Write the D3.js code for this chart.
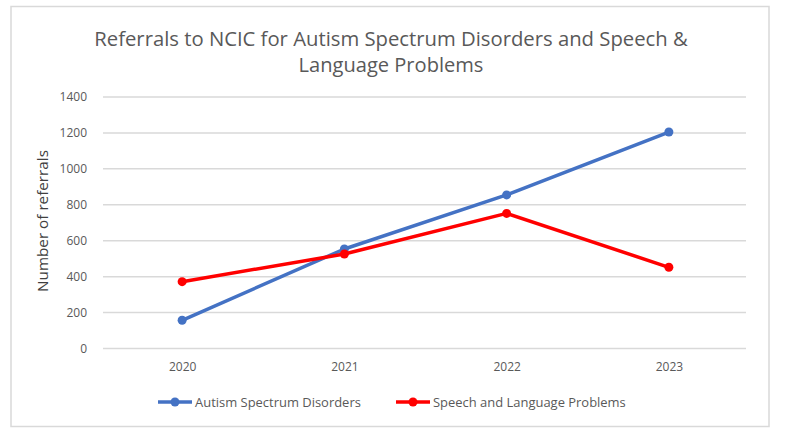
<!DOCTYPE html>
<html><head><meta charset="utf-8">
<script src="https://cdn.jsdelivr.net/npm/d3@7/dist/d3.min.js"></script>
<style>body{margin:0;background:#fff}svg{display:block}</style>
</head><body>
<svg id="c" width="788" height="438"></svg>
<script>
const years = ["2020","2021","2022","2023"];
const autism = [157, 554, 855, 1205];
const speech = [372, 526, 752, 452];
const yTicks = [0,200,400,600,800,1000,1200,1400];
const seriesNames = ["Autism Spectrum Disorders","Speech and Language Problems"];
const colors = ["#4472C4","#FF0000"];

const font = "'Open Sans', 'Noto Sans', sans-serif";
const svg = d3.select("#c");
svg.append("rect").attr("x",11).attr("y",6.5).attr("width",758).attr("height",420)
  .attr("fill","#fff").attr("stroke","#d9d9d9").attr("stroke-width",1.5);

const x = d3.scalePoint().domain(years).range([101,750]).padding(0.5);
const y = d3.scaleLinear().domain([0,1400]).range([348.5,97]);

function fit(sel, w){
  const n = sel.node(); const fs = parseFloat(sel.attr("font-size"));
  const l = n.getComputedTextLength(); sel.attr("font-size", fs*w/l);
}

// title
const t1 = svg.append("text").attr("x",391).attr("y",46).attr("text-anchor","middle")
  .attr("font-family",font).attr("font-size",20).attr("fill","#595959")
  .text("Referrals to NCIC for Autism Spectrum Disorders and Speech &");
fit(t1,594);
const t2 = svg.append("text").attr("x",391).attr("y",72).attr("text-anchor","middle")
  .attr("font-family",font).attr("font-size",20).attr("fill","#595959")
  .text("Language Problems");
fit(t2,185);

// grid
svg.append("g").selectAll("line").data(yTicks).join("line")
  .attr("x1",103).attr("x2",746).attr("y1",d=>y(d)).attr("y2",d=>y(d))
  .attr("stroke","#d9d9d9").attr("stroke-width",1.5);

// y axis labels
const ya = svg.append("g").attr("transform","translate(103,0)")
  .call(d3.axisLeft(y).tickValues(yTicks).tickSize(0).tickPadding(16).tickFormat(d3.format("d")));
ya.select(".domain").remove();
ya.selectAll("text").attr("font-family",font).attr("font-size",12).attr("fill","#595959");

// x axis labels
const xa = svg.append("g").attr("transform","translate(0,349)")
  .call(d3.axisBottom(x).tickSize(0).tickPadding(13));
xa.select(".domain").remove();
xa.selectAll("text").attr("font-family",font).attr("font-size",12).attr("fill","#595959");

// y title
const yt = svg.append("text").attr("transform","translate(48,221) rotate(-90)")
  .attr("text-anchor","middle").attr("font-family",font).attr("font-size",13).attr("fill","#404040")
  .text("Number of referrals");
fit(yt,142);

// lines
const data = [autism, speech];
const line = d3.line().x((d,i)=>x(years[i])).y(d=>y(d));
data.forEach((s,k)=>{
  svg.append("path").datum(s).attr("d",line).attr("fill","none")
    .attr("stroke",colors[k]).attr("stroke-width",3.5).attr("stroke-linejoin","round");
  svg.append("g").selectAll("circle").data(s).join("circle")
    .attr("cx",(d,i)=>x(years[i])).attr("cy",d=>y(d)).attr("r",4.5).attr("fill",colors[k]);
});

// legend
const lx = [158, 396], tw = [166, 193];
seriesNames.forEach((n,k)=>{
  const g = svg.append("g");
  g.append("line").attr("x1",lx[k]).attr("x2",lx[k]+34).attr("y1",402).attr("y2",402)
    .attr("stroke",colors[k]).attr("stroke-width",3.5);
  g.append("circle").attr("cx",lx[k]+17).attr("cy",402).attr("r",4.5).attr("fill",colors[k]);
  const tt = g.append("text").attr("x",lx[k]+37).attr("y",406.5).attr("font-family",font)
    .attr("font-size",12).attr("fill","#595959").text(n);
  fit(tt, tw[k]);
});
</script>
</body></html>
